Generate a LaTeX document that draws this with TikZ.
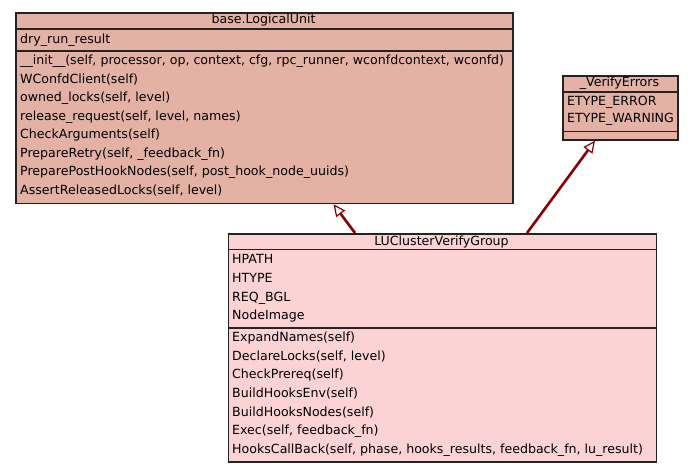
\documentclass[tikz,border=0pt]{standalone}
\usepackage{fontspec}
\setmainfont{DejaVu Sans}
\usetikzlibrary{arrows.meta}
\definecolor{baseFill}{RGB}{227,178,164}
\definecolor{derivedFill}{RGB}{252,211,213}
\definecolor{edgeRed}{RGB}{139,0,0}
\definecolor{frameGray}{RGB}{35,35,35}
\tikzset{
  classbox/.style={draw=frameGray, line width=1.7pt, inner sep=0pt, anchor=north west},
  sepline/.style={draw=frameGray, line width=1.8pt},
  member/.style={anchor=base west, inner sep=0pt, text=black, font=\fontsize{12.6}{14}\selectfont},
  classname/.style={anchor=base, inner sep=0pt, text=black, font=\fontsize{12.6}{14}\selectfont},
  inherit/.style={draw=edgeRed, line width=2.6pt,
    -{Triangle[open, length=12pt, width=11pt, fill=white, line width=1.2pt]}}
}
\begin{document}
\begin{tikzpicture}[x=1pt,y=-1pt]
\useasboundingbox (0,0) rectangle (693,472);
\fill[white] (0,0) rectangle (693,472);

% base.LogicalUnit
\node[classbox, fill=baseFill, minimum width=497pt, minimum height=190.5pt] (lu) at (15,12) {};
\draw[sepline] (15,29.3) -- (512,29.3);
\draw[sepline] (15,51.2) -- (512,51.2);
\node[classname] (luname) at (263.5,23.8) {base.LogicalUnit};
\node[member] (lua1) at (20,43.5) {dry\_run\_result};
\node[member] (lum1) at (20,64.6) {\_\_init\_\_(self, processor, op, context, cfg, rpc\_runner, wconfdcontext, wconfd)};
\node[member] (lum2) at (20,83.1) {WConfdClient(self)};
\node[member] (lum3) at (20,101.7) {owned\_locks(self, level)};
\node[member] (lum4) at (20,120.2) {release\_request(self, level, names)};
\node[member] (lum5) at (20,138.8) {CheckArguments(self)};
\node[member] (lum6) at (20,157.3) {PrepareRetry(self, \_feedback\_fn)};
\node[member] (lum7) at (20,175.9) {PreparePostHookNodes(self, post\_hook\_node\_uuids)};
\node[member] (lum8) at (20,194.4) {AssertReleasedLocks(self, level)};

% _VerifyErrors
\node[classbox, fill=baseFill, minimum width=115pt, minimum height=64pt] (ve) at (562,75) {};
\draw[sepline] (562,92) -- (677,92);
\draw[sepline] (562,131.5) -- (677,131.5);
\node[classname] (vename) at (619.5,86.3) {\_VerifyErrors};
\node[member] (vea1) at (567,105.8) {ETYPE\_ERROR};
\node[member] (vea2) at (567,122.6) {ETYPE\_WARNING};

% LUClusterVerifyGroup
\node[classbox, fill=derivedFill, minimum width=428pt, minimum height=228pt] (cv) at (227.5,233) {};
\draw[sepline] (227.5,249.5) -- (655.5,249.5);
\draw[sepline] (227.5,327.7) -- (655.5,327.7);
\node[classname] (cvname) at (441.5,245.3) {LUClusterVerifyGroup};
\node[member] (cva1) at (232,263.5) {HPATH};
\node[member] (cva2) at (232,282.3) {HTYPE};
\node[member] (cva3) at (232,301.1) {REQ\_BGL};
\node[member] (cva4) at (232,319.9) {NodeImage};
\node[member] (cvm1) at (232,341.7) {ExpandNames(self)};
\node[member] (cvm2) at (232,360.3) {DeclareLocks(self, level)};
\node[member] (cvm3) at (232,378.9) {CheckPrereq(self)};
\node[member] (cvm4) at (232,397.5) {BuildHooksEnv(self)};
\node[member] (cvm5) at (232,416.1) {BuildHooksNodes(self)};
\node[member] (cvm6) at (232,434.7) {Exec(self, feedback\_fn)};
\node[member] (cvm7) at (232,453.3) {HooksCallBack(self, phase, hooks\_results, feedback\_fn, lu\_result)};

% inheritance edges
\draw[inherit] ([xshift=127.5pt]cv.north west) -- ([xshift=318.5pt]lu.south west);
\draw[inherit] ([xshift=299.5pt]cv.north west) -- ([xshift=33pt]ve.south west);
\end{tikzpicture}
\end{document}
